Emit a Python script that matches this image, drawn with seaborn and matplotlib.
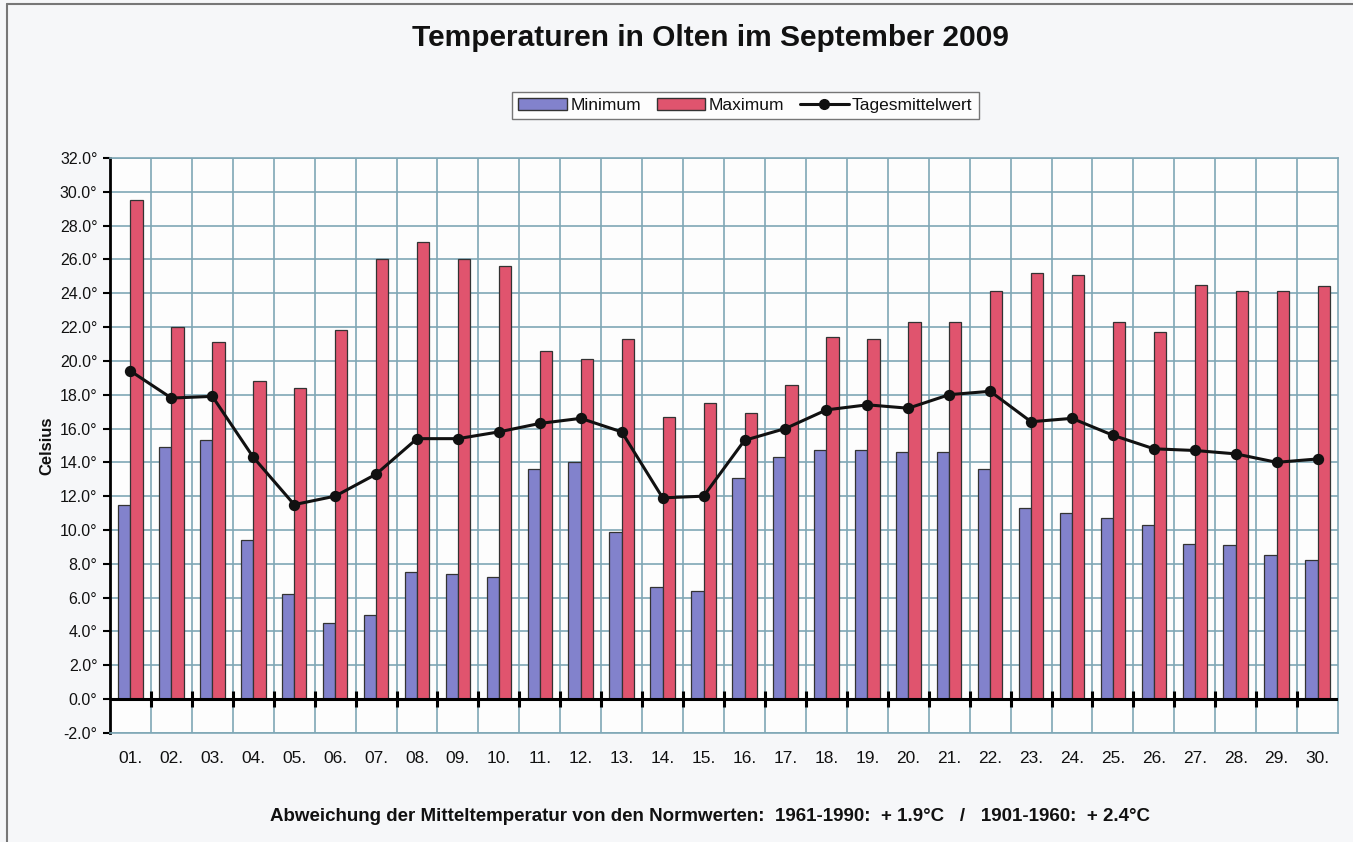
import numpy as np
import pandas as pd
import matplotlib
matplotlib.use("Agg")
import matplotlib.pyplot as plt
from matplotlib.patches import Patch
from matplotlib.lines import Line2D
import seaborn as sns

# Data
days = [f"{d:02d}." for d in range(1, 31)]
minimum = [11.5, 14.9, 15.3, 9.4, 6.2, 4.5, 5.0, 7.5, 7.4, 7.2,
           13.6, 14.0, 9.9, 6.6, 6.4, 13.1, 14.3, 14.7, 14.7, 14.6,
           14.6, 13.6, 11.3, 11.0, 10.7, 10.3, 9.2, 9.1, 8.5, 8.2]
maximum = [29.5, 22.0, 21.1, 18.8, 18.4, 21.8, 26.0, 27.0, 26.0, 25.6,
           20.6, 20.1, 21.3, 16.7, 17.5, 16.9, 18.6, 21.4, 21.3, 22.3,
           22.3, 24.1, 25.2, 25.1, 22.3, 21.7, 24.5, 24.1, 24.1, 24.4]
mittel = [19.4, 17.8, 17.9, 14.3, 11.5, 12.0, 13.3, 15.4, 15.4, 15.8,
          16.3, 16.6, 15.8, 11.9, 12.0, 15.3, 16.0, 17.1, 17.4, 17.2,
          18.0, 18.2, 16.4, 16.6, 15.6, 14.8, 14.7, 14.5, 14.0, 14.2]
y_ticks = np.arange(-2, 33, 2)

MIN_COL = "#8282cc"
MAX_COL = "#e0546e"
GRID_COL = "#7fa7b6"

bars = pd.DataFrame({
    "Tag": days * 2,
    "Wert": minimum + maximum,
    "Serie": ["Minimum"] * 30 + ["Maximum"] * 30,
})
line = pd.DataFrame({"Tag": days, "Wert": mittel})

sns.set_style("white")
plt.rcParams["font.family"] = ["Liberation Sans", "DejaVu Sans"]
plt.rcParams["text.color"] = "#111111"
plt.rcParams["xtick.color"] = "#111111"
plt.rcParams["ytick.color"] = "#111111"
plt.rcParams["axes.labelcolor"] = "#111111"

fig = plt.figure(figsize=(13.53, 8.42), dpi=100, facecolor="#f6f7f9")
ax = fig.add_axes([0.0813, 0.1295, 0.9077, 0.683])
ax.set_facecolor("#fdfdfd")

sns.barplot(data=bars, x="Tag", y="Wert", hue="Serie",
            palette={"Minimum": MIN_COL, "Maximum": MAX_COL}, saturation=1,
            width=0.6, gap=0, edgecolor="#333333", linewidth=0.9,
            legend=False, ax=ax, zorder=3)
sns.pointplot(data=line, x="Tag", y="Wert", color="#111111",
              markersize=6.5, linewidth=2.2, ax=ax, zorder=5)

ax.set_ylim(-2, 32)
ax.set_xlim(-0.5, 29.5)
ax.set_yticks(y_ticks)
ax.set_yticklabels([f"{v:.1f}°" for v in y_ticks], fontsize=11.5)
ax.set_xticks(range(30))
ax.set_xticklabels(days, fontsize=12.5)
ax.tick_params(axis="x", length=0, pad=13)
ax.tick_params(axis="y", length=5, width=1.5, color="black", left=True, pad=4)

# grid: every 2 deg and at the category boundaries
ax.set_xticks(np.arange(0.5, 29.5, 1), minor=True)
ax.grid(axis="y", which="major", color=GRID_COL, linewidth=1.2, zorder=0)
ax.grid(axis="x", which="minor", color=GRID_COL, linewidth=1.2, zorder=0)
ax.set_axisbelow(True)

# zero line with small tick marks
ax.axhline(0, color="black", linewidth=2.2, zorder=4)
ax.plot(np.arange(0.5, 29.5, 1), np.zeros(29), linestyle="none",
        marker="|", markersize=11, markeredgewidth=2.2, color="black", zorder=4)

for side in ["top", "right", "bottom"]:
    ax.spines[side].set_color(GRID_COL)
    ax.spines[side].set_linewidth(1.2)
ax.spines["left"].set_color("black")
ax.spines["left"].set_linewidth(2)

ax.set_xlabel("")
ax.set_ylabel("Celsius", fontsize=12, fontweight="bold", labelpad=4)

handles = [
    Patch(facecolor=MIN_COL, edgecolor="#333333", label="Minimum"),
    Patch(facecolor=MAX_COL, edgecolor="#333333", label="Maximum"),
    Line2D([0], [0], color="#111111", marker="o", markersize=7, linewidth=2.2,
           label="Tagesmittelwert"),
]
fig.legend(handles=handles, loc="center", bbox_to_anchor=(0.551, 0.875), ncol=3,
           frameon=True, fancybox=False, edgecolor="#555555", fontsize=12.5,
           handlelength=2.8, handletextpad=0.2, columnspacing=0.9,
           borderpad=0.35)

fig.text(0.525, 0.955, "Temperaturen in Olten im September 2009",
         ha="center", va="center", fontsize=21.5, fontweight="bold")
fig.text(0.525, 0.03,
         "Abweichung der Mitteltemperatur von den Normwerten:  1961-1990:  + 1.9°C   /   1901-1960:  + 2.4°C",
         ha="center", va="center", fontsize=13.5, fontweight="bold")

# scanned page border on the left and top
fig.add_artist(Line2D([0.0052, 0.0052], [0, 0.995], color="#777777", linewidth=1.5))
fig.add_artist(Line2D([0.0052, 1], [0.995, 0.995], color="#777777", linewidth=1.5))

fig.savefig("out.png", dpi=100, facecolor=fig.get_facecolor())
